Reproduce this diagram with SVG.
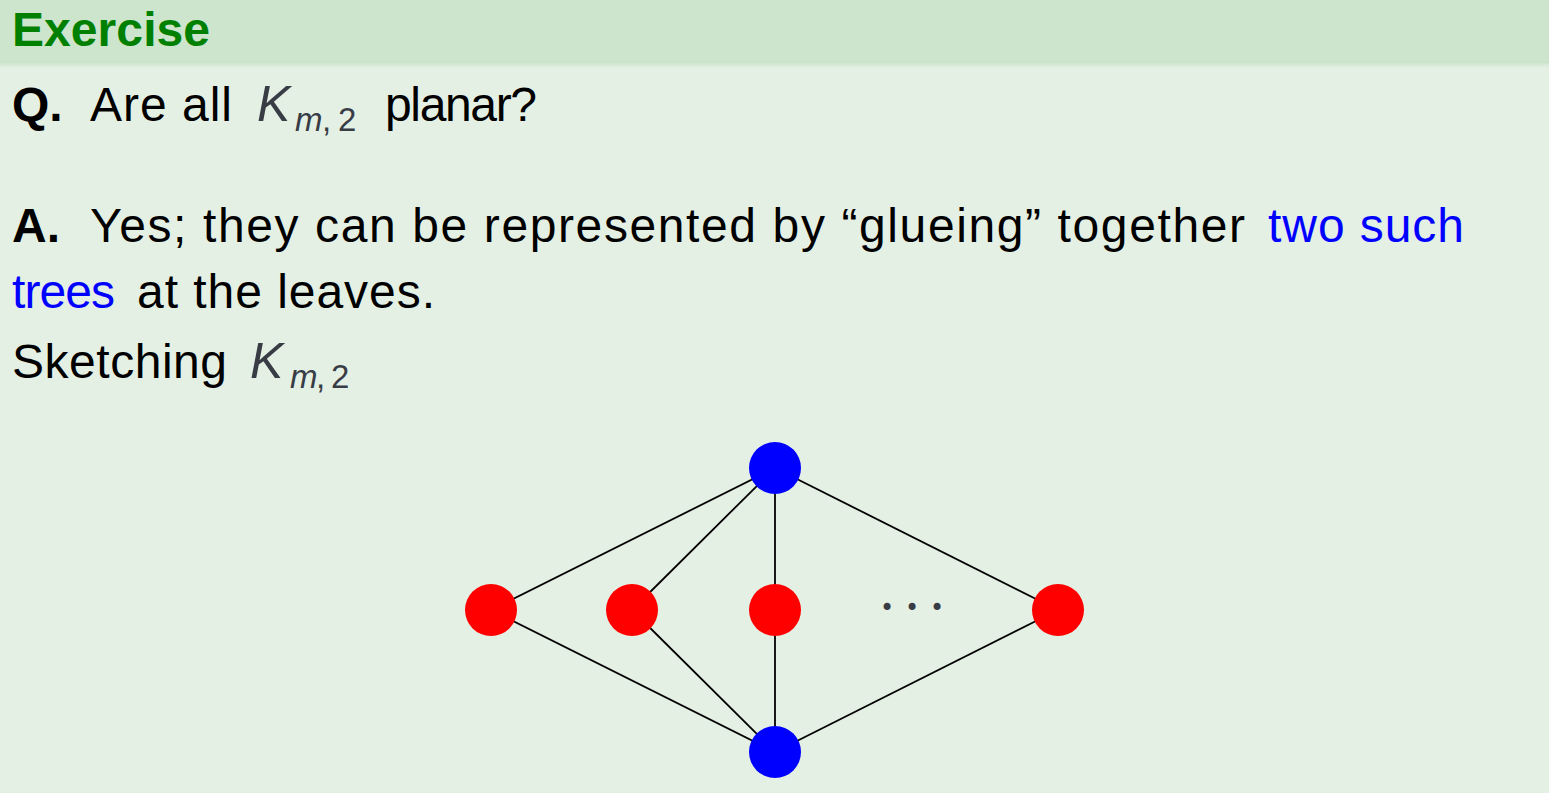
<svg xmlns="http://www.w3.org/2000/svg" width="1549" height="793" viewBox="0 0 1549 793">
<defs>
<linearGradient id="shadow" x1="0" y1="0" x2="0" y2="1">
<stop offset="0" stop-color="#c6e0c6"/>
<stop offset="1" stop-color="#e5f0e5"/>
</linearGradient>
<style>
.t{font-family:"Liberation Sans",Arial,sans-serif;font-size:48px;fill:#000}
.b{font-weight:bold}
.blue{fill:#0000ff}
.math{font-family:"Liberation Sans",Arial,sans-serif;font-size:50px;font-style:italic;fill:#383d45}
.sub{font-size:33px}
.up{font-style:normal}
.edge{stroke:#000;stroke-width:1.8;fill:none}
.red{fill:#ff0000}
.bl{fill:#0000ff}
.dot{font-family:"DejaVu Sans",sans-serif;font-size:24px;fill:#383d45;text-anchor:middle}
</style>
</defs>
<rect x="0" y="0" width="1549" height="793" fill="#e5f0e5"/>
<rect x="0" y="0" width="1549" height="61" fill="#cce5cc"/>
<rect x="0" y="61" width="1549" height="7" fill="url(#shadow)"/>
<text class="t b" x="12" y="46" style="fill:#008000" textLength="198">Exercise</text>
<g id="line-q">
<text class="t b" x="12" y="121">Q.</text>
<text class="t" x="90" y="121" textLength="142">Are all</text>
<text class="math" x="257" y="121">K<tspan class="sub" x="295" dy="10">m</tspan><tspan class="sub up" x="322">,</tspan><tspan class="sub up" x="338">2</tspan></text>
<text class="t" x="385" y="121" textLength="152">planar?</text>
</g>
<g id="line-a">
<text class="t b" x="12" y="242">A.</text>
<text class="t" x="90" y="242" textLength="1155">Yes; they can be represented by “glueing” together</text>
<text class="t blue" x="1268" y="242" textLength="196">two such</text>
<text class="t blue" x="12" y="308" textLength="103">trees</text>
<text class="t" x="137" y="308" textLength="298">at the leaves.</text>
</g>
<g id="line-s">
<text class="t" x="12" y="378" textLength="215">Sketching</text>
<text class="math" x="250" y="378">K<tspan class="sub" x="290" dy="10">m</tspan><tspan class="sub up" x="316">,</tspan><tspan class="sub up" x="331">2</tspan></text>
</g>
<g id="connectors">
<line class="edge" x1="775" y1="468" x2="491" y2="610"/>
<line class="edge" x1="775" y1="468" x2="632" y2="610"/>
<line class="edge" x1="775" y1="468" x2="775" y2="610"/>
<line class="edge" x1="775" y1="468" x2="1058" y2="610"/>
<line class="edge" x1="775" y1="752" x2="491" y2="610"/>
<line class="edge" x1="775" y1="752" x2="632" y2="610"/>
<line class="edge" x1="775" y1="752" x2="775" y2="610"/>
<line class="edge" x1="775" y1="752" x2="1058" y2="610"/>
</g>
<g id="node-top"><circle class="bl" cx="775" cy="468" r="26"/></g>
<g id="node-bottom"><circle class="bl" cx="775" cy="752" r="26"/></g>
<g id="node-r1"><circle class="red" cx="491" cy="610" r="26"/></g>
<g id="node-r2"><circle class="red" cx="632" cy="610" r="26"/></g>
<g id="node-r3"><circle class="red" cx="775" cy="610" r="26"/></g>
<g id="node-r4"><circle class="red" cx="1058" cy="610" r="26"/></g>
<g id="dots"><text class="dot" y="616"><tspan x="887">•</tspan><tspan x="912">•</tspan><tspan x="937">•</tspan></text></g>
</svg>
